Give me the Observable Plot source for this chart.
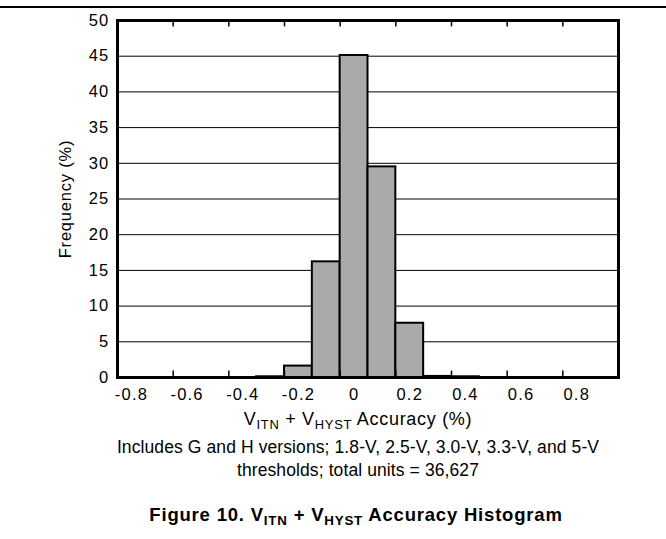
<!DOCTYPE html>
<html><head><meta charset="utf-8">
<script src="https://cdn.jsdelivr.net/npm/d3@7"></script>
<script src="https://cdn.jsdelivr.net/npm/@observablehq/plot@0.6"></script>
<style>
body{margin:0;background:#fff;font-family:"Liberation Sans",Arial,sans-serif;color:#000;}
#wrap{position:relative;width:666px;height:539px;overflow:hidden;background:#fff;}
.topline{position:absolute;left:0;top:6px;width:666px;height:2px;background:#000;}
#plot{position:absolute;left:0;top:0;}
#plot svg g[aria-label="x-axis tick label"] text,
#plot svg g[aria-label="y-axis tick label"] text{letter-spacing:1.2px;}
#plot svg g[aria-label="y-axis label"] text{letter-spacing:0.8px;}
.t{position:absolute;left:358px;transform:translateX(-50%);white-space:nowrap;text-align:center;color:#000;}
sub{font-size:0.72em;vertical-align:-0.28em;line-height:0;}
</style></head>
<body><div id="wrap"><div class="topline"></div><div id="plot"></div>
<div class="t" style="top:409px;font-size:18px;line-height:20px;letter-spacing:0.7px;">V<sub>ITN</sub> + V<sub>HYST</sub> Accuracy (%)</div>
<div class="t" style="top:436px;font-size:17.5px;line-height:23px;letter-spacing:0.1px;">Includes G and H versions; 1.8-V, 2.5-V, 3.0-V, 3.3-V, and 5-V<br>thresholds; total units = 36,627</div>
<div class="t" style="top:504px;left:356px;font-size:18.5px;line-height:22px;font-weight:bold;letter-spacing:0.8px;">Figure 10. V<sub>ITN</sub> + V<sub>HYST</sub> Accuracy Histogram</div>
</div>
<script>
const binCenters = [-0.8,-0.7,-0.6,-0.5,-0.4,-0.3,-0.2,-0.1,0,0.1,0.2,0.3,0.4,0.5,0.6,0.7,0.8,0.9];
const frequency  = [0,0,0,0,0,0.1,1.6,16.2,45.1,29.5,7.6,0.15,0.1,0,0,0,0,0];
const binWidth = 0.1;
const xTickLabels = [-0.8,-0.6,-0.4,-0.2,0,0.2,0.4,0.6,0.8];
const xTickMarks = [-0.65,-0.45,-0.25,-0.05,0.15,0.35,0.55,0.75];
const yTicks = [0,5,10,15,20,25,30,35,40,45,50];

const bins = binCenters.map((c,i)=>({x1:c-binWidth/2, x2:c+binWidth/2, y:frequency[i]})).filter(d=>d.y>0);

const chart = Plot.plot({
  width:666, height:425,
  marginLeft:117, marginRight:48, marginTop:20, marginBottom:48,
  style:{fontFamily:"'Liberation Sans', Arial, sans-serif", fontSize:"16px", color:"black", background:"transparent", overflow:"visible"},
  x:{domain:[-0.85,0.95]},
  y:{domain:[0,50]},
  marks:[
    Plot.gridY(yTicks.filter(v=>v>0&&v<50),{stroke:"black",strokeOpacity:1,strokeWidth:1}),
    Plot.rectY(bins,{x1:"x1",x2:"x2",y:"y",fill:"#aaaaaa",stroke:"black",strokeWidth:2}),
    Plot.ruleX(xTickMarks,{y1:0,y2:0.9,stroke:"black",strokeWidth:1.5}),
    Plot.ruleX(xTickMarks,{y1:49.1,y2:50,stroke:"black",strokeWidth:1.5}),
    Plot.axisX(xTickLabels,{tickSize:0,tickPadding:11,label:null,tickFormat:d=>String(d),fontSize:16.5}),
    Plot.axisY(yTicks,{tickSize:0,tickPadding:8,label:"Frequency (%)",labelAnchor:"center",labelArrow:"none",labelOffset:58,tickFormat:d=>String(d),fontSize:16.5}),
    Plot.frame({stroke:"black",strokeWidth:3})
  ]
});
document.getElementById("plot").appendChild(chart);
</script>
</body></html>
